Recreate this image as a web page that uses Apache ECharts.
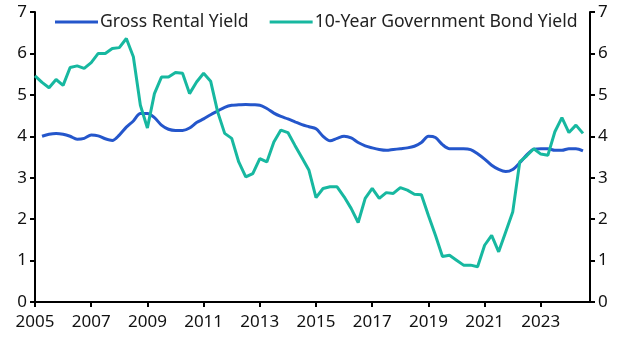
<!DOCTYPE html>
<html>
<head>
<meta charset="utf-8">
<script src="https://cdn.jsdelivr.net/npm/echarts@6/dist/echarts.min.js"></script>
<style>
  html, body { margin: 0; padding: 0; background: #fff; }
  #chart { width: 629px; height: 354px; }
</style>
</head>
<body>
<div id="chart"></div>
<script>
// quarterly series, first point of each
const rentalStart = 2005.25;
const bondStart = 2005.0;

const rentalYield = [
  4.00, 4.05, 4.07,
  4.05, 4.00, 3.93, 3.95,
  4.03, 4.01, 3.94, 3.90,
  4.03, 4.22, 4.37, 4.55,
  4.55, 4.45, 4.27, 4.17,
  4.14, 4.14, 4.20, 4.33,
  4.42, 4.52, 4.61, 4.70,
  4.75, 4.76, 4.77, 4.76,
  4.75, 4.67, 4.56, 4.48,
  4.42, 4.35, 4.28, 4.23,
  4.18, 4.00, 3.89, 3.95,
  4.00, 3.96, 3.85, 3.77,
  3.72, 3.68, 3.66, 3.68,
  3.70, 3.72, 3.76, 3.85,
  4.00, 3.97, 3.80, 3.70,
  3.70, 3.70, 3.68, 3.58,
  3.45, 3.30, 3.20, 3.15,
  3.20, 3.36, 3.55, 3.69,
  3.70, 3.70, 3.66, 3.66,
  3.70, 3.70, 3.65
];

const bondYield = [
  5.46, 5.30, 5.17, 5.37,
  5.23, 5.66, 5.70, 5.64,
  5.78, 6.00, 6.00, 6.12,
  6.14, 6.36, 5.92, 4.75,
  4.20, 5.03, 5.43, 5.43,
  5.54, 5.52, 5.03, 5.31,
  5.52, 5.33, 4.59, 4.07,
  3.95, 3.38, 3.02, 3.10,
  3.46, 3.38, 3.86, 4.15,
  4.09, 3.78, 3.48, 3.18,
  2.52, 2.74, 2.78, 2.78,
  2.54, 2.26, 1.92, 2.50,
  2.74, 2.50, 2.64, 2.62,
  2.76, 2.70, 2.60, 2.59,
  2.09, 1.61, 1.10, 1.13,
  1.01, 0.89, 0.89, 0.85,
  1.37, 1.61, 1.21, 1.69,
  2.17, 3.38, 3.53, 3.70,
  3.57, 3.54, 4.11, 4.45,
  4.09, 4.27, 4.07
];

const seriesNames = ['Gross Rental Yield', '10-Year Government Bond Yield'];
const colors = ['#2456CB', '#17B8A0'];

const toPairs = (start, vals) => vals.map((v, i) => [start + i * 0.25, v]);

var chartDom = document.getElementById('chart');
var myChart = echarts.init(chartDom, null, { renderer: 'canvas' });

const font = 'Noto Sans';
const axisLine = { show: true, lineStyle: { color: '#000', width: 2 } };
const axisTick = { show: true, length: 5, lineStyle: { color: '#000', width: 2 } };

const yAxisBase = {
  type: 'value',
  min: 0,
  max: 7,
  interval: 1,
  splitLine: { show: false },
  axisLine: axisLine,
  axisTick: axisTick,
  axisLabel: { color: '#111', fontSize: 17, fontFamily: font, margin: 8 }
};

var option = {
  animation: false,
  textStyle: { fontFamily: font },
  grid: { left: 35, right: 39, top: 12, bottom: 52, containLabel: false },
  legend: {
    top: 8,
    left: 50,
    itemWidth: 43,
    itemHeight: 3,
    itemGap: 21,
    textStyle: { color: '#222', fontSize: 17.6, fontFamily: font, padding: [0, 0, 0, -3] },
    data: seriesNames.map((n, i) => ({ name: n, icon: 'rect', itemStyle: { color: colors[i] } }))
  },
  xAxis: {
    type: 'value',
    min: 2005,
    max: 2024.75,
    interval: 2,
    splitLine: { show: false },
    axisLine: axisLine,
    axisTick: axisTick,
    axisLabel: {
      color: '#111', fontSize: 17, fontFamily: font, margin: 12,
      formatter: (v) => String(v)
    }
  },
  yAxis: [
    Object.assign({}, yAxisBase, { position: 'left' }),
    Object.assign({}, yAxisBase, { position: 'right' })
  ],
  series: [
    {
      name: seriesNames[0],
      type: 'line',
      symbol: 'none',
      smooth: 0.3,
      lineStyle: { color: colors[0], width: 3 },
      itemStyle: { color: colors[0] },
      data: toPairs(rentalStart, rentalYield)
    },
    {
      name: seriesNames[1],
      type: 'line',
      symbol: 'none',
      lineStyle: { color: colors[1], width: 3 },
      itemStyle: { color: colors[1] },
      data: toPairs(bondStart, bondYield)
    }
  ]
};

option && myChart.setOption(option);
</script>
</body>
</html>
